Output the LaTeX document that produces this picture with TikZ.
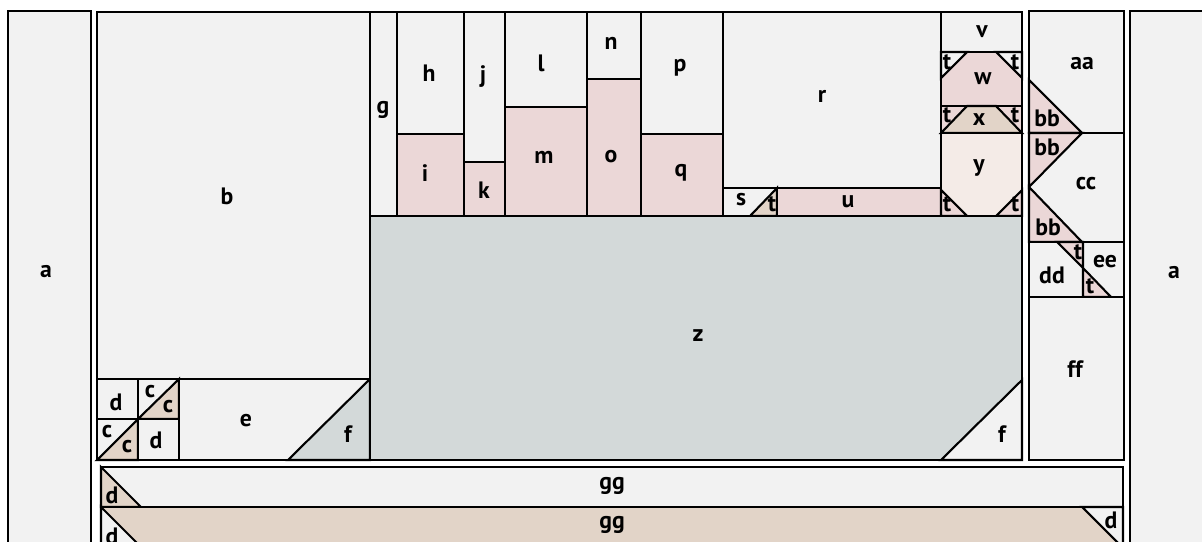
\documentclass[tikz,border=0pt]{standalone}
\usepackage{fontspec}
\setmainfont{PT Sans}
\usepackage{tikz}
\usetikzlibrary{positioning}
\definecolor{gris}{HTML}{F2F2F2}
\definecolor{rose}{HTML}{EBD7D7}
\definecolor{roseclair}{HTML}{F4EBE7}
\definecolor{beige}{HTML}{E2D4C8}
\definecolor{ardoise}{HTML}{D3D9D9}
\tikzset{
  piece/.style={draw=black,line width=1.2pt,line join=miter,fill=gris},
  cadre/.style={draw=black,line width=1.6pt},
  lettre/.style={font=\bfseries\fontsize{13.5}{14}\selectfont,inner sep=0pt},
}

\begin{document}
\begin{tikzpicture}[x=0.02cm,y=-0.02cm]
  \useasboundingbox (0,0) rectangle (1202,541);
  \clip (0,0) rectangle (1202,541);
  % bordures laterales
  \draw[piece,cadre] (8,11) rectangle (91,570);
  \draw[piece,cadre] (1130,11) rectangle (1240,570);
  % bloc b
  \draw[piece] (97,12) rectangle (370,379);
  \draw[piece] (97,379) rectangle (138,419);
  \draw[piece] (138,379) rectangle (179,419);
  \draw[piece,fill=beige] (138,419) -- (179,379) -- (179,419) -- cycle;
  \draw[piece] (97,419) rectangle (138,460);
  \draw[piece,fill=beige] (97,460) -- (138,419) -- (138,460) -- cycle;
  \draw[piece] (138,419) rectangle (179,460);
  \draw[piece] (179,379) rectangle (370,460);
  \draw[piece,fill=ardoise] (288,460) -- (370,379) -- (370,460) -- cycle;
  % rangee du haut
  \draw[piece] (370,12) rectangle (397,216);
  \draw[piece] (397,12) rectangle (464,134);
  \draw[piece,fill=rose] (397,134) rectangle (464,216);
  \draw[piece] (464,12) rectangle (505,162);
  \draw[piece,fill=rose] (464,162) rectangle (505,216);
  \draw[piece] (505,12) rectangle (587,107);
  \draw[piece,fill=rose] (505,107) rectangle (587,216);
  \draw[piece] (587,12) rectangle (641,79);
  \draw[piece,fill=rose] (587,79) rectangle (641,216);
  \draw[piece] (641,12) rectangle (723,134);
  \draw[piece,fill=rose] (641,134) rectangle (723,216);
  \draw[piece] (723,12) rectangle (941,188);
  \draw[piece] (723,188) rectangle (777,216);
  \draw[piece,fill=beige] (750,216) -- (777,188) -- (777,216) -- cycle;
  \draw[piece,fill=rose] (777,188) rectangle (941,216);
  % colonne v-y
  \draw[piece] (941,12) rectangle (1022,52);
  \draw[piece,fill=rose] (941,52) rectangle (1022,106);
  \draw[piece] (941,52) -- (967,52) -- (941,78) -- cycle;
  \draw[piece] (1022,52) -- (996,52) -- (1022,78) -- cycle;
  \draw[piece,fill=rose] (941,106) rectangle (1022,133);
  \draw[piece,fill=beige] (967,106) -- (996,106) -- (1022,133) -- (941,133) -- cycle;
  \draw[piece,fill=roseclair] (941,133) rectangle (1022,216);
  \draw[piece,fill=rose] (941,190) -- (967,216) -- (941,216) -- cycle;
  \draw[piece,fill=rose] (1022,190) -- (996,216) -- (1022,216) -- cycle;
  % fond z
  \draw[piece,fill=ardoise] (370,216) rectangle (1022,460);
  \draw[piece] (941,460) -- (1022,380) -- (1022,460) -- cycle;
  \draw[cadre] (97,12) rectangle (1022,460);
  % colonne droite
  \draw[piece] (1029,11) rectangle (1124,133);
  \draw[piece,fill=rose] (1029,80) -- (1082,133) -- (1029,133) -- cycle;
  \draw[piece] (1029,133) rectangle (1124,242);
  \draw[piece,fill=rose] (1029,133) -- (1082,133) -- (1029,187) -- cycle;
  \draw[piece,fill=rose] (1029,187) -- (1082,242) -- (1029,242) -- cycle;
  \draw[piece] (1029,242) rectangle (1083,297);
  \draw[piece] (1083,242) rectangle (1124,297);
  \draw[piece,fill=rose] (1057,242) -- (1083,242) -- (1083,268) -- cycle;
  \draw[piece,fill=rose] (1083,268) -- (1111,297) -- (1083,297) -- cycle;
  \draw[piece] (1029,297) rectangle (1124,460);
  \draw[cadre] (1029,11) rectangle (1124,460);
  % bandes du bas
  \draw[piece] (101,467) rectangle (1123,507);
  \draw[piece,fill=beige] (101,467) -- (141,507) -- (101,507) -- cycle;
  \draw[piece,fill=beige] (101,507) rectangle (1123,570);
  \draw[piece] (101,507) -- (164,570) -- (101,570) -- cycle;
  \draw[piece] (1082,507) -- (1123,507) -- (1123,548) -- cycle;
  \draw[cadre] (101,467) rectangle (1123,570);
  % lettres
  \node[lettre] (ag) at (46,272) {a};
  \node[lettre] (ad) at (1174,273) {a};
  \node[lettre] (b) at (227,196) {b};
  \node[lettre] (c1) at (150,392) {c};
  \node[lettre] (c2) at (168,407) {c};
  \node[lettre] (c3) at (107,432) {c};
  \node[lettre] (c4) at (127,447) {c};
  \node[lettre] (d1) at (116,402) {d};
  \node[lettre] (d2) at (156,440) {d};
  \node[lettre] (e) at (246,421) {e};
  \node[lettre] (f1) at (348,434) {f};
  \node[lettre] (g) at (383,110) {g};
  \node[lettre] (h) at (429,73) {h};
  \node[lettre] (i) at (425,173) {i};
  \node[lettre] (j) at (483,77) {j};
  \node[lettre] (k) at (484,190) {k};
  \node[lettre] (l) at (541,63) {l};
  \node[lettre] (m) at (544,157) {m};
  \node[lettre] (n) at (611,43) {n};
  \node[lettre] (o) at (611,157) {o};
  \node[lettre] (p) at (680,68) {p};
  \node[lettre] (q) at (681,173) {q};
  \node[lettre] (r) at (822,96) {r};
  \node[lettre] (s) at (741,200) {s};
  \node[lettre] (t1) at (772,204) {t};
  \node[lettre] (u) at (848,202) {u};
  \node[lettre] (v) at (982,32) {v};
  \node[lettre] (w) at (983,79) {w};
  \node[lettre] (x) at (979,120) {x};
  \node[lettre] (y) at (979,168) {y};
  \node[lettre] (t2) at (947,62) {t};
  \node[lettre] (t3) at (1015,62) {t};
  \node[lettre] (t4) at (947,115) {t};
  \node[lettre] (t5) at (1015,115) {t};
  \node[lettre] (t6) at (947,204) {t};
  \node[lettre] (t7) at (1015,204) {t};
  \node[lettre] (z) at (698,336) {z};
  \node[lettre] (f2) at (1002,434) {f};
  \node[lettre] (aa) at (1082,64) {aa};
  \node[lettre] (bb1) at (1047,118) {bb};
  \node[lettre] (bb2) at (1047,147) {bb};
  \node[lettre] (bb3) at (1048,227) {bb};
  \node[lettre] (cc) at (1086,184) {cc};
  \node[lettre] (dd) at (1052,275) {dd};
  \node[lettre] (ee) at (1105,262) {ee};
  \node[lettre] (t8) at (1078,252) {t};
  \node[lettre] (t9) at (1090,286) {t};
  \node[lettre] (ff) at (1075,369) {ff};
  \node[lettre] (gg1) at (612,486) {gg};
  \node[lettre] (gg2) at (612,525) {gg};
  \node[lettre] (d3) at (112,495) {d};
  \node[lettre] (d4) at (112,536) {d};
  \node[lettre] (d5) at (1111,520) {d};
\end{tikzpicture}
\end{document}
